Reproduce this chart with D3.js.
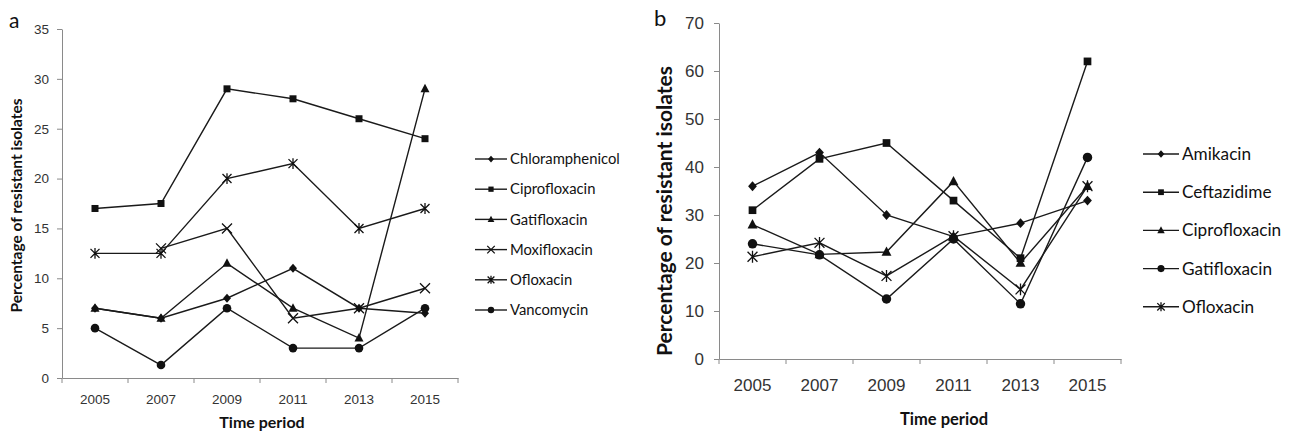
<!DOCTYPE html>
<html>
<head>
<meta charset="utf-8">
<script src="https://cdn.jsdelivr.net/npm/d3@7"></script>
<style>
  body { margin: 0; background: #fff; }
  svg { font-family: Lato, "Open Sans", sans-serif; }
  .axis path, .axis line { stroke: #8a8a8a; }
  .axis text { fill: #333; }
</style>
</head>
<body>
<svg id="chart" width="1296" height="433"></svg>
<script>
// two line charts side by side: a and b
var years = ['2005', '2007', '2009', '2011', '2013', '2015'];

// panel a
var namesA = ['Chloramphenicol', 'Ciprofloxacin', 'Gatifloxacin', 'Moxifloxacin', 'Ofloxacin', 'Vancomycin'];
var chloramphenicolA = [7, 6, 8, 11, 7, 6.5];
var ciprofloxacinA = [17, 17.5, 29, 28, 26, 24];
var gatifloxacinA = [7, 6, 11.5, 7, 4, 29];
var moxifloxacinA = [null, 13, 15, 6, 7, 9];
var ofloxacinA = [12.5, 12.5, 20, 21.5, 15, 17];
var vancomycinA = [5, 1.3, 7, 3, 3, 7];
var ticksA = [0, 5, 10, 15, 20, 25, 30, 35];

// panel b
var namesB = ['Amikacin', 'Ceftazidime', 'Ciprofloxacin', 'Gatifloxacin', 'Ofloxacin'];
var amikacinB = [36, 43, 30, 25.5, 28.3, 33];
var ceftazidimeB = [31, 41.7, 45, 33, 21, 62];
var ciprofloxacinB = [28, 21.8, 22.3, 37, 20, 36];
var gatifloxacinB = [24, 21.7, 12.5, 25, 11.5, 42];
var ofloxacinB = [21.3, 24.2, 17.3, 25.6, 14.5, 36];
var ticksB = [0, 10, 20, 30, 40, 50, 60, 70];

var seriesA = [chloramphenicolA, ciprofloxacinA, gatifloxacinA, moxifloxacinA, ofloxacinA, vancomycinA];
var markersA = ['diamond', 'square', 'triangle', 'x', 'star', 'circle'];
var seriesB = [amikacinB, ceftazidimeB, ciprofloxacinB, gatifloxacinB, ofloxacinB];
var markersB = ['diamond', 'square', 'triangle', 'circle', 'star'];

var svg = d3.select('#chart');

function drawMarker(g, type, s) {
    // s = size scale
    if (type === 'diamond') {
        g.append('path').attr('d', 'M0,' + (-4.5*s) + 'L' + (4*s) + ',0L0,' + (4.5*s) + 'L' + (-4*s) + ',0Z').attr('fill', '#111');
    } else if (type === 'square') {
        g.append('rect').attr('x', -3.5*s).attr('y', -3.5*s).attr('width', 7*s).attr('height', 7*s).attr('fill', '#111');
    } else if (type === 'triangle') {
        g.append('path').attr('d', 'M0,' + (-5*s) + 'L' + (4.5*s) + ',' + (3.5*s) + 'L' + (-4.5*s) + ',' + (3.5*s) + 'Z').attr('fill', '#111');
    } else if (type === 'circle') {
        g.append('circle').attr('r', 4.3*s).attr('fill', '#111');
    } else if (type === 'x') {
        var r = 5*s;
        g.append('path').attr('d', 'M' + (-r) + ',' + (-r) + 'L' + r + ',' + r + 'M' + r + ',' + (-r) + 'L' + (-r) + ',' + r)
            .attr('stroke', '#111').attr('stroke-width', 1.3).attr('fill', 'none');
    } else if (type === 'star') {
        var r = 4.5*s;
        g.append('path').attr('d', 'M' + (-r) + ',' + (-r) + 'L' + r + ',' + r + 'M' + r + ',' + (-r) + 'L' + (-r) + ',' + r + 'M0,' + (-r*1.2) + 'L0,' + (r*1.2))
            .attr('stroke', '#111').attr('stroke-width', 1.3).attr('fill', 'none');
    }
}

function panel(opt) {
    var x = d3.scaleBand().domain(years).range([opt.x0, opt.x1]);
    var y = d3.scaleLinear().domain([0, opt.ymax]).range([opt.y0, opt.y1]);
    var g = svg.append('g');

    // y axis
    var ya = g.append('g').attr('class', 'axis')
        .attr('transform', 'translate(' + opt.x0 + ',0)')
        .call(d3.axisLeft(y).tickValues(opt.ticks).tickSize(5).tickSizeOuter(0).tickPadding(opt.tickPad));
    ya.selectAll('text').style('font-size', opt.tickFont + 'px');

    // x axis, ticks on band edges
    var xa = g.append('g').attr('class', 'axis')
        .attr('transform', 'translate(0,' + opt.y0 + ')')
        .call(d3.axisBottom(x).tickSize(0).tickSizeOuter(0).tickPadding(opt.xPad));
    xa.selectAll('text').style('font-size', opt.tickFont + 'px');
    xa.selectAll('.edge').data(d3.range(years.length + 1)).enter().append('line')
        .attr('x1', function(i) { return opt.x0 + i * x.bandwidth(); })
        .attr('x2', function(i) { return opt.x0 + i * x.bandwidth(); })
        .attr('y1', 0).attr('y2', 5);

    var line = d3.line()
        .defined(function(d) { return d != null; })
        .x(function(d, i) { return x(years[i]) + x.bandwidth() / 2; })
        .y(function(d) { return y(d); });

    opt.series.forEach(function(s, k) {
        g.append('path').attr('d', line(s))
            .attr('fill', 'none').attr('stroke', '#1a1a1a').attr('stroke-width', 1.4);
    });
    opt.series.forEach(function(s, k) {
        s.forEach(function(v, i) {
            if (v == null) return;
            var m = g.append('g').attr('transform', 'translate(' + (x(years[i]) + x.bandwidth() / 2) + ',' + y(v) + ')');
            drawMarker(m, opt.markers[k], opt.ms);
        });
    });

    // legend
    opt.names.forEach(function(n, k) {
        var ly = opt.ly + k * opt.lstep;
        var lg = g.append('g');
        lg.append('line').attr('x1', opt.lx).attr('x2', opt.lx + opt.lw).attr('y1', ly).attr('y2', ly)
            .attr('stroke', '#1a1a1a').attr('stroke-width', 1.4);
        var m = lg.append('g').attr('transform', 'translate(' + (opt.lx + opt.lw / 2) + ',' + ly + ')');
        drawMarker(m, opt.markers[k], opt.ms * 0.75);
        lg.append('text').attr('x', opt.lx + opt.lw + 3).attr('y', ly).attr('dy', '0.35em')
            .style('font-size', opt.legFont + 'px').attr('fill', '#111').text(n);
    });

    // titles
    g.append('text')
        .attr('transform', 'translate(' + opt.ytx + ',' + ((opt.y0 + opt.y1) / 2 + opt.ytDy) + ') rotate(-90)')
        .attr('text-anchor', 'middle').attr('dy', '0.35em')
        .style('font-size', opt.titleFont + 'px').style('font-weight', 'bold').attr('fill', '#111')
        .text('Percentage of resistant isolates');
    g.append('text')
        .attr('x', (opt.x0 + opt.x1) / 2 + opt.xtDx).attr('y', opt.xty)
        .attr('text-anchor', 'middle').attr('dy', '0.35em')
        .style('font-size', opt.xTitleFont + 'px').style('font-weight', 'bold').attr('fill', '#111')
        .text('Time period');
    g.append('text').attr('x', opt.labx).attr('y', opt.laby)
        .style('font-size', opt.labFont + 'px').attr('fill', '#111').text(opt.label);
}

panel({
    x0: 62, x1: 458, y0: 378, y1: 29, ymax: 35, ticks: ticksA,
    series: seriesA, markers: markersA, names: namesA, ms: 1,
    tickFont: 13.5, tickPad: 8, xPad: 16,
    lx: 475, lw: 32, ly: 159, lstep: 30.2, legFont: 14.8,
    ytx: 17, ytDy: 2, titleFont: 15.5, xty: 422, xTitleFont: 16, xtDx: 2,
    label: 'a', labx: 9, laby: 28, labFont: 21
});

panel({
    x0: 719, x1: 1121, y0: 359, y1: 23, ymax: 70, ticks: ticksB,
    series: seriesB, markers: markersB, names: namesB, ms: 1.1,
    tickFont: 17, tickPad: 10, xPad: 20,
    lx: 1143, lw: 36, ly: 154, lstep: 38.2, legFont: 17.2,
    ytx: 665, ytDy: 20, titleFont: 21, xty: 419, xTitleFont: 16.5, xtDx: 24,
    label: 'b', labx: 654, laby: 26, labFont: 22
});
</script>
</body>
</html>
